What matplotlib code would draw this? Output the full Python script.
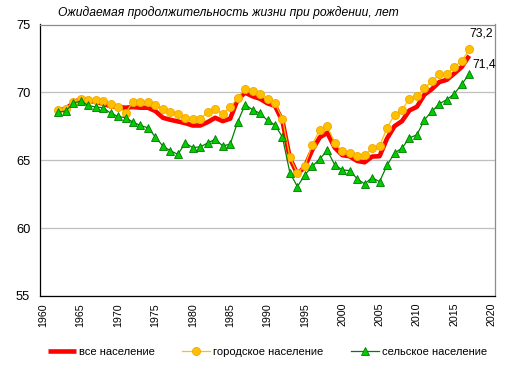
import matplotlib
matplotlib.use("Agg")
import matplotlib.pyplot as plt
import numpy as np

# years 1962..2017
years = list(range(1962, 2018))

total = [68.67, 68.79, 69.21, 69.53, 69.41, 69.29, 69.17, 68.97, 68.92, 68.87,
         68.92, 68.87, 68.87, 68.62, 68.13, 67.98, 67.86, 67.73, 67.56, 67.56,
         67.81, 68.13, 67.88, 68.06, 69.46, 69.98, 69.71, 69.53, 69.19, 69.01,
         67.89, 65.14, 63.98, 64.52, 65.77, 66.69, 67.02, 65.93, 65.38, 65.29,
         64.95, 64.85, 65.27, 65.30, 66.60, 67.51, 67.88, 68.67, 68.94, 69.83,
         70.24, 70.76, 70.93, 71.39, 71.87, 72.70]

urban = [68.67, 68.79, 69.29, 69.53, 69.41, 69.41, 69.34, 69.11, 68.92, 68.50,
         69.29, 69.29, 69.29, 69.09, 68.75, 68.55, 68.43, 68.13, 68.01, 68.06,
         68.55, 68.75, 68.43, 68.92, 69.58, 70.27, 70.07, 69.85, 69.53, 69.21,
         68.06, 65.23, 64.05, 64.61, 66.16, 67.25, 67.49, 66.29, 65.65, 65.55,
         65.30, 65.35, 65.89, 66.04, 67.39, 68.35, 68.72, 69.53, 69.70, 70.32,
         70.81, 71.33, 71.38, 71.87, 72.31, 73.16]

rural = [68.55, 68.62, 69.21, 69.36, 69.04, 68.92, 68.87, 68.47, 68.23, 68.13,
         67.81, 67.56, 67.39, 66.72, 66.04, 65.70, 65.44, 66.27, 65.93, 65.99,
         66.27, 66.55, 66.06, 66.18, 67.81, 69.10, 68.72, 68.46, 67.93, 67.61,
         66.70, 64.07, 63.06, 63.92, 64.56, 65.10, 65.72, 64.66, 64.29, 64.24,
         63.63, 63.26, 63.72, 63.42, 64.63, 65.53, 65.89, 66.65, 66.87, 67.98,
         68.60, 69.16, 69.46, 69.90, 70.59, 71.37]

labels = ["все население", "городское население", "сельское население"]
title = "Ожидаемая продолжительность жизни при рождении, лет"

plt.rcParams['font.family'] = ['Liberation Sans', 'DejaVu Sans']

fig = plt.figure(figsize=(5.1, 3.72), dpi=100)
ax = fig.add_axes([40 / 510, 1 - 296 / 372, 455 / 510, 271.5 / 372])

ax.plot(years, total, color='#FF0000', lw=3.3, solid_capstyle='butt',
        label=labels[0], zorder=3)
ax.plot(years, urban, color='#FFC000', lw=0.9, marker='o', ms=5.8,
        mfc='#FFC000', mec='#F0A800', mew=0.6, label=labels[1], zorder=4)
ax.plot(years, rural, color='#008000', lw=0.9, marker='^', ms=5.8,
        mfc='#00CC00', mec='#007A00', mew=0.6, label=labels[2], zorder=5)

ax.annotate(f"{urban[-1]:.1f}".replace('.', ','), (years[-1], urban[-1]),
            xytext=(0, 10), textcoords='offset pixels', fontsize=8.7,
            ha='left', va='bottom')
ax.annotate(f"{rural[-1]:.1f}".replace('.', ','), (years[-1], rural[-1]),
            xytext=(3, 3), textcoords='offset pixels', fontsize=8.7,
            ha='left', va='bottom')

ax.set_xlim(1959.55, 2020.45)
ax.set_ylim(55, 75)
ax.set_xticks(np.arange(1960, 2021, 5))
ax.set_yticks(np.arange(55, 76, 5))
ax.tick_params(axis='x', labelrotation=90, length=0, pad=5, labelsize=7.7)
ax.tick_params(axis='y', length=0, pad=7, labelsize=9.3)
ax.yaxis.grid(True, color='#BFBFBF', lw=0.9)
ax.set_axisbelow(True)
for s in ['top', 'right']:
    ax.spines[s].set_color('#8C8C8C')
    ax.spines[s].set_linewidth(0.9)
for s in ['left', 'bottom']:
    ax.spines[s].set_color('black')
    ax.spines[s].set_linewidth(0.9)

fig.text(58 / 510, 1 - 13 / 372, title, fontsize=8.7, style='italic',
         ha='left', va='center')

fig.legend(loc='center', bbox_to_anchor=(0.5245, 1 - 352 / 372), ncol=3,
           frameon=False, fontsize=8, handlelength=2.5, columnspacing=2.5,
           handletextpad=0.25)

fig.savefig('out.png', dpi=100)
